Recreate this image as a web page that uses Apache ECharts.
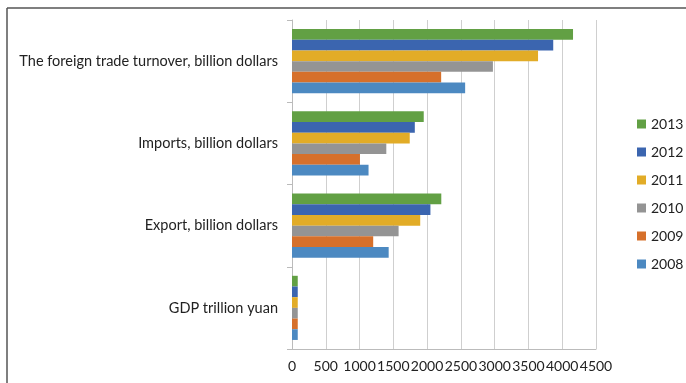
<!DOCTYPE html>
<html><head><meta charset="utf-8">
<script src="https://cdn.jsdelivr.net/npm/echarts@6/dist/echarts.min.js"></script>
<style>html,body{margin:0;padding:0;background:#fff}#c{width:686px;height:383px}</style>
</head><body><div id="c"></div>
<script>
var categories = ['GDP trillion yuan', 'Export, billion dollars', 'Imports, billion dollars', 'The foreign trade turnover, billion dollars'];
var years = ['2013', '2012', '2011', '2010', '2009', '2008'];
var v2013 = [85, 2210, 1950, 4160];
var v2012 = [85, 2049, 1818, 3867];
var v2011 = [85, 1898, 1743, 3642];
var v2010 = [85, 1578, 1396, 2974];
var v2009 = [85, 1202, 1006, 2208];
var v2008 = [85, 1431, 1133, 2563];
var xTicks = [0, 500, 1000, 1500, 2000, 2500, 3000, 3500, 4000, 4500];
var values = [v2013, v2012, v2011, v2010, v2009, v2008];
var colors = ['#62A044', '#3B65AF', '#E2AC27', '#949494', '#D6702B', '#4C89C1'];
var font = 'Lato, "Open Sans", sans-serif';
var chart = echarts.init(document.getElementById('c'));
chart.setOption({
  animation: false,
  grid: {left: 292, right: 90, top: 20, bottom: 34},
  graphic: [
    {type: 'line', shape: {x1: 7, y1: 8, x2: 686, y2: 8}, style: {stroke: '#555', lineWidth: 1.5}},
    {type: 'line', shape: {x1: 7, y1: 8, x2: 7, y2: 383}, style: {stroke: '#555', lineWidth: 1.5}}
  ],
  legend: {
    orient: 'vertical', left: 632, top: 112, itemWidth: 9, itemHeight: 9, itemGap: 14,
    icon: 'rect', data: years,
    textStyle: {fontFamily: font, fontSize: 14, color: '#222'}
  },
  xAxis: {
    type: 'value', min: xTicks[0], max: xTicks[xTicks.length - 1], interval: 500,
    axisLine: {show: true, lineStyle: {color: '#bbb'}},
    axisTick: {show: false},
    splitLine: {lineStyle: {color: '#cfcfcf'}},
    axisLabel: {fontFamily: font, fontSize: 14, color: '#222', margin: 10,
      formatter: function (v) { return String(v); }}
  },
  yAxis: {
    type: 'category', data: categories,
    axisLine: {lineStyle: {color: '#bbb'}},
    axisTick: {show: true, length: 5, lineStyle: {color: '#bbb'}},
    axisLabel: {fontFamily: font, fontSize: 14.5, color: '#222', margin: 14}
  },
  series: years.map(function (y, i) {
    return {
      name: y, type: 'bar', data: values[i], barGap: '0%', barCategoryGap: '22%',
      itemStyle: {color: colors[i]}
    };
  })
});
</script></body></html>
